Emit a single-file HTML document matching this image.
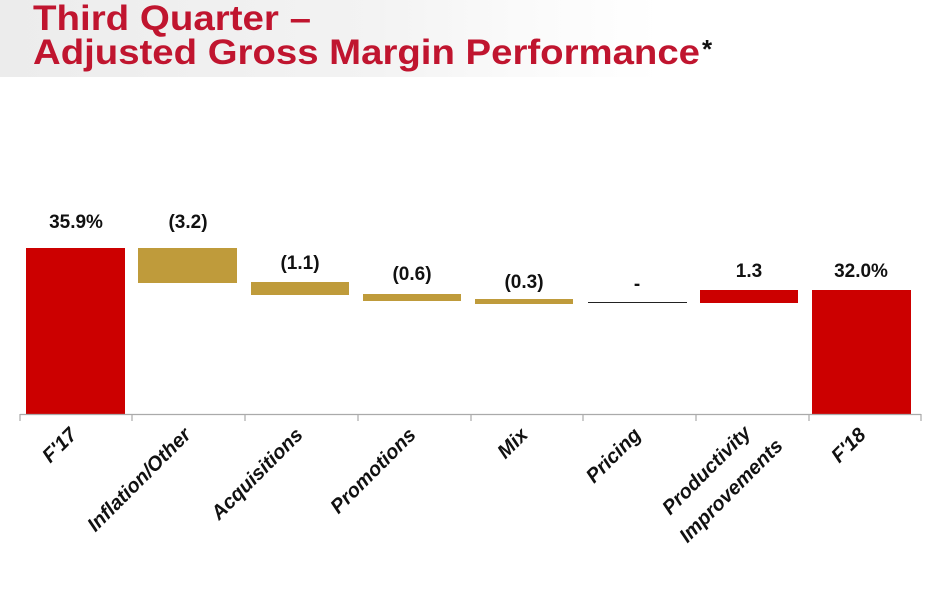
<!DOCTYPE html>
<html><head><style>
body{margin:0;width:943px;height:594px;background:#fff;overflow:hidden;font-family:"Liberation Sans",Arial,sans-serif;}
.hdr{position:absolute;left:0;top:0;width:943px;height:77px;background:linear-gradient(90deg,#ececec 0%,#f3f3f3 40%,#fafafa 55%,#fff 70%);}
</style></head><body>
<div class="hdr"></div>
<svg width="943" height="594" style="position:absolute;left:0;top:0" font-family="Liberation Sans, Arial, sans-serif">
<g fill="#c0152f" font-weight="bold" font-size="35">
<text x="33" y="30" textLength="278" lengthAdjust="spacingAndGlyphs">Third Quarter –</text>
<text x="33" y="64" textLength="667" lengthAdjust="spacingAndGlyphs">Adjusted Gross Margin Performance</text>
</g>
<text x="702" y="58" font-size="26" font-weight="bold" fill="#111">*</text>
<rect x="26" y="248" width="99" height="166" fill="#cc0000"/>
<rect x="138" y="248" width="99" height="35" fill="#bf9b3b"/>
<rect x="251" y="282" width="98" height="13" fill="#bf9b3b"/>
<rect x="363" y="294" width="98" height="7" fill="#bf9b3b"/>
<rect x="475" y="299" width="98" height="5" fill="#bf9b3b"/>
<rect x="588" y="302" width="99" height="1" fill="#222"/>
<rect x="700" y="290" width="98" height="13" fill="#cc0000"/>
<rect x="812" y="290" width="99" height="124" fill="#cc0000"/>
<g stroke="#aaa" stroke-width="1.2">
<line x1="20" y1="414.5" x2="921" y2="414.5"/>
<line x1="20" y1="414" x2="20" y2="421"/><line x1="132" y1="414" x2="132" y2="421"/>
<line x1="245" y1="414" x2="245" y2="421"/><line x1="358" y1="414" x2="358" y2="421"/>
<line x1="471" y1="414" x2="471" y2="421"/><line x1="583" y1="414" x2="583" y2="421"/>
<line x1="696" y1="414" x2="696" y2="421"/><line x1="809" y1="414" x2="809" y2="421"/>
<line x1="921" y1="414" x2="921" y2="421"/>
</g>
<g font-size="19" font-weight="bold" fill="#111" text-anchor="middle">
<text x="76" y="228">35.9%</text>
<text x="188" y="228">(3.2)</text>
<text x="300" y="269">(1.1)</text>
<text x="412" y="280">(0.6)</text>
<text x="524" y="288">(0.3)</text>
<text x="637" y="290">-</text>
<text x="749" y="277">1.3</text>
<text x="861" y="277">32.0%</text>
</g>
<g font-size="20" font-weight="bold" font-style="italic" fill="#111" text-anchor="end">
<text transform="translate(78,436) rotate(-45)">F'17</text>
<text transform="translate(192,436) rotate(-45)">Inflation/Other</text>
<text transform="translate(304,436) rotate(-45)">Acquisitions</text>
<text transform="translate(417,436) rotate(-45)">Promotions</text>
<text transform="translate(529,436) rotate(-45)">Mix</text>
<text transform="translate(642,436) rotate(-45)">Pricing</text>
<text transform="translate(752,434) rotate(-45)">Productivity</text>
<text transform="translate(784,447) rotate(-45)">Improvements</text>
<text transform="translate(867,436) rotate(-45)">F'18</text>
</g>
</svg>
</body></html>
